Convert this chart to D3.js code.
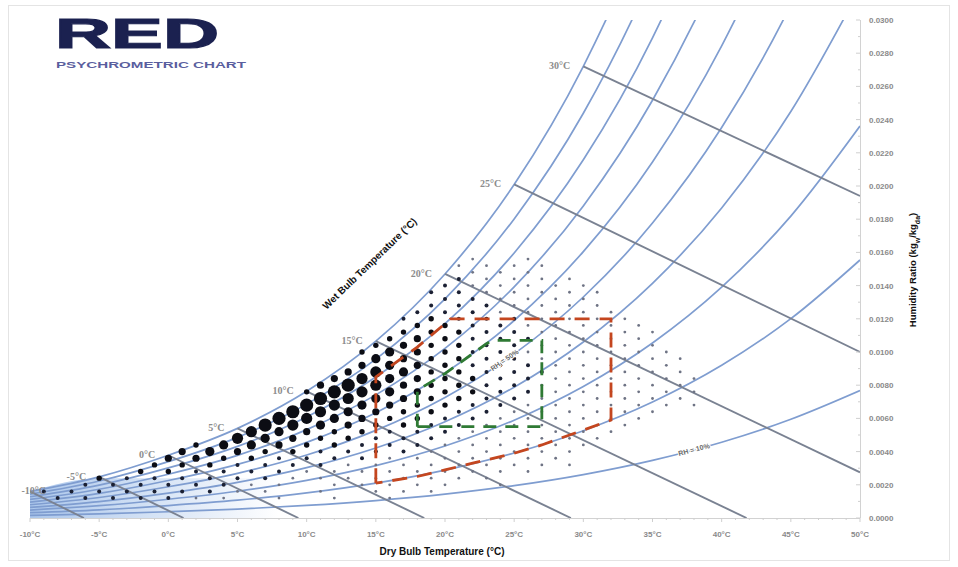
<!DOCTYPE html>
<html><head><meta charset="utf-8">
<script src="https://cdn.jsdelivr.net/npm/d3@7"></script>
<style>body{margin:0;background:#fff}</style>
</head><body><svg id="c" width="958" height="567"></svg>
<script>
// ---- data ----
const temps = [-10,-5,0,5,10,15,20,25,30,35,40,45,50];
const w100 = [0.00160,0.00248,0.00378,0.00540,0.00763,0.01065,0.01470,0.02009,0.02721,0.03659,0.04889,0.06506,0.08635];
const w90 = [0.001439,0.002228,0.003395,0.004859,0.006860,0.009569,0.013198,0.018019,0.024382,0.032733,0.043661,0.057945,0.076647];
const w80 = [0.001279,0.001980,0.003016,0.004315,0.006091,0.008491,0.011704,0.015966,0.021579,0.028927,0.038510,0.050979,0.067210];
const w70 = [0.001119,0.001731,0.002638,0.003772,0.005323,0.007417,0.010217,0.013925,0.018800,0.025165,0.033437,0.044154,0.058025];
const w60 = [0.000959,0.001483,0.002259,0.003231,0.004557,0.006347,0.008737,0.011898,0.016045,0.021446,0.028442,0.037467,0.049082];
const w50 = [0.000799,0.001236,0.001882,0.002690,0.003793,0.005280,0.007264,0.009884,0.013313,0.017770,0.023522,0.030912,0.040371];
const w40 = [0.000639,0.000988,0.001504,0.002150,0.003031,0.004217,0.005797,0.007882,0.010605,0.014135,0.018677,0.024486,0.031883];
const w30 = [0.000479,0.000741,0.001128,0.001611,0.002270,0.003157,0.004338,0.005893,0.007920,0.010541,0.013903,0.018186,0.023609];
const w20 = [0.000319,0.000494,0.000751,0.001073,0.001512,0.002101,0.002885,0.003916,0.005258,0.006988,0.009200,0.012007,0.015543];
const w10 = [0.000160,0.000247,0.000375,0.000536,0.000755,0.001049,0.001439,0.001952,0.002618,0.003474,0.004566,0.005946,0.007676];

const wbTemps = [-10,-5,0,5,10,15,20,25,30];
const wbStartW = [0.0016,0.00248,0.00378,0.0054,0.00763,0.01065,0.0147,0.0201,0.0272];
const wbEndT = [-6.1,1.1,9.4,18.5,29.1,41.8,50,50,50];
const wbEndW = [0,0,0,0,0,0,0.00275,0.0100,0.0194];
const wbLabels = ["-10°C","-5°C","0°C","5°C","10°C","15°C","20°C","25°C","30°C"];

const xTicks = [-10,-5,0,5,10,15,20,25,30,35,40,45,50];
const xTickLabels = ["-10°C","-5°C","0°C","5°C","10°C","15°C","20°C","25°C","30°C","35°C","40°C","45°C","50°C"];
const yTicks = [0,0.002,0.004,0.006,0.008,0.010,0.012,0.014,0.016,0.018,0.020,0.022,0.024,0.026,0.028,0.030];

// comfort zones [dry bulb, humidity ratio]
const redZoneT = [15,15,16,17,18,19,20,20.4,32,32,30,27,25,22,20,18,15];
const redZoneW = [0.0021,0.0085,0.0091,0.0097,0.0103,0.0110,0.0117,0.0120,0.0120,0.0059,0.0053,0.0044,0.0039,0.0033,0.0029,0.0025,0.0021];
const greenZoneT = [18,18,19,20,21,22,23,23.4,27,27,18];
const greenZoneW = [0.0055,0.0077,0.0082,0.0087,0.0093,0.0099,0.0105,0.0107,0.0107,0.0055,0.0055];

// climate hour bubbles: one string per humidity-ratio row (step 0.0004), one char per 2 °C cell
const dotStepW = 0.0004;
const dotRows = [
"",
"",
".2222211.1.1.1",
"222222211.1.111",
"..22222211.11111.1",
"..322222211111111",
"....332222111111111",
"....3332222111111111",
".....443322221111111",
".....454332222111111",
"......355433222111111",
".......65433222111111",
"........65433222111111",
"........76543322111111",
".........76543322111111",
".........76543322111111",
"..........765433221111111",
"..........76543322111111",
"..........376543322111111",
"..........47643322111111",
"...........46543322111111",
"...........4653322211111",
"............454322211111",
"............543322111111",
"............354322111111",
"............34332211111",
".............3432221111",
".............3332211111",
"..............332211111",
".............232221111",
"..............22211111",
"..............2221111",
"...............221111",
"..............2211111",
"...............211111",
"...............21111",
"................111",
"...............1111",
"................1.1"
];
const dotRadius = {1:1.4,2:2.0,3:2.7,4:3.6,5:4.6,6:5.6,7:6.6};

// ---- drawing ----
const svg = d3.select("#c");
const W = 958, H = 567;
svg.append("rect").attr("width",W).attr("height",H).attr("fill","#fff");
svg.append("rect").attr("x",8.5).attr("y",5.5).attr("width",941).attr("height",555)
  .attr("fill","none").attr("stroke","#e4e4e4");

const x = d3.scaleLinear().domain([-10,50]).range([30,860]);
const y = d3.scaleLinear().domain([0,0.03]).range([518,20]);

const defs = svg.append("defs");
defs.append("clipPath").attr("id","plot").append("rect")
  .attr("x",x(-10)).attr("y",y(0.03)).attr("width",x(50)-x(-10)).attr("height",y(0)-y(0.03));
const grad = defs.append("linearGradient").attr("id","shade").attr("gradientUnits","userSpaceOnUse")
  .attr("x1",x(-10)).attr("x2",x(8)).attr("y1",0).attr("y2",0);
grad.append("stop").attr("offset",0).attr("stop-color","#9dbde8").attr("stop-opacity",0.85);
grad.append("stop").attr("offset",1).attr("stop-color","#9dbde8").attr("stop-opacity",0);

const g = svg.append("g").attr("clip-path","url(#plot)");

// light blue shading at the cold end
const shadePts = temps.map((t,i)=>[t, Math.min(w100[i],0.0024)]).filter(d=>d[0]<=10);
g.append("path").datum(shadePts)
  .attr("d", d3.area().x(d=>x(d[0])).y0(y(0)).y1(d=>y(d[1])).curve(d3.curveMonotoneX))
  .attr("fill","url(#shade)");

// RH curves
const rhCurves = [w10,w20,w30,w40,w50,w60,w70,w80,w90,w100];
const line = d3.line().x(d=>x(d[0])).y(d=>y(d[1])).curve(d3.curveMonotoneX);
rhCurves.forEach((arr,k)=>{
  g.append("path").datum(temps.map((t,i)=>[t,arr[i]]))
    .attr("d",line).attr("fill","none")
    .attr("stroke", "#7f9dd0").attr("stroke-width",1.7);
});

// wet bulb lines
wbTemps.forEach((t,i)=>{
  g.append("line")
    .attr("x1",x(t)).attr("y1",y(wbStartW[i]))
    .attr("x2",x(wbEndT[i])).attr("y2",y(wbEndW[i]))
    .attr("stroke","#7a8292").attr("stroke-width",1.9);
});

// bubbles
const dots = [];
dotRows.forEach((row,r)=>{
  const m = r+1;
  const t0 = -10 + (m%2===0 ? 1 : 0);
  for(let j=0;j<row.length;j++){
    const c = row[j];
    if(c==="." ) continue;
    dots.push({t:t0+2*j, w:m*dotStepW, s:+c});
  }
});
g.append("g").selectAll("circle").data(dots).join("circle")
  .attr("cx",d=>x(d.t)).attr("cy",d=>y(d.w)).attr("r",d=>dotRadius[d.s])
  .attr("fill",d=>d.s===1?"#6e7384":(d.s===2?"#1b2033":"#0c0d14"));

// comfort zones
function zonePath(ts,ws){ return d3.line().x(d=>x(d[0])).y(d=>y(d[1])).curve(d3.curveLinear)(ts.map((t,i)=>[t,ws[i]])); }
g.append("path").attr("d",zonePath(redZoneT,redZoneW)).attr("fill","none")
  .attr("stroke","#c4461f").attr("stroke-width",2.8).attr("stroke-dasharray","15 10");
g.append("path").attr("d",zonePath(greenZoneT,greenZoneW)).attr("fill","none")
  .attr("stroke","#2f7a34").attr("stroke-width",2.8).attr("stroke-dasharray","13 9");

// RH labels
function interp(arr,t){ const i=Math.min(temps.length-2,Math.floor((t+10)/5)); const f=(t-temps[i])/5; return arr[i]+(arr[i+1]-arr[i])*f; }
function rhLabel(arr,t,txt){
  const px=x(t), py=y(interp(arr,t));
  const ang = Math.atan2(y(interp(arr,t+2))-y(interp(arr,t-2)), x(t+2)-x(t-2))*180/Math.PI;
  svg.append("text").attr("transform",`translate(${px},${py}) rotate(${ang}) translate(0,2.5)`)
    .attr("text-anchor","middle").attr("font-family","Liberation Sans, Arial, sans-serif")
    .attr("font-weight","bold").attr("font-size",7).attr("fill","#6a6a6a")
    .attr("stroke","#fff").attr("stroke-width",2).attr("paint-order","stroke").text(txt);
}
rhLabel(w50,24.3,"RH = 50%");
rhLabel(w10,38,"RH = 10%");

// wet bulb labels
wbTemps.forEach((t,i)=>{
  svg.append("text").attr("x",Math.max(x(t)-13,46)).attr("y",y(wbStartW[i])+3)
    .attr("text-anchor","end").attr("font-family","Liberation Serif, serif").attr("font-weight","bold")
    .attr("font-size",10).attr("fill","#8c8c8c").text(wbLabels[i]);
});

// axes
const ax = svg.append("g");
ax.append("line").attr("x1",x(-10)).attr("x2",x(50)).attr("y1",y(0)+0.5).attr("y2",y(0)+0.5).attr("stroke","#d2d2d2");
ax.selectAll(".xt").data(d3.range(-10,51,1)).join("line")
  .attr("x1",d=>x(d)).attr("x2",d=>x(d)).attr("y1",y(0)).attr("y2",d=>y(0)+(d%5===0?4:2)).attr("stroke","#cfcfcf");
ax.selectAll(".xl").data(xTicks).join("text")
  .attr("x",d=>x(d)).attr("y",537).attr("text-anchor","middle")
  .attr("font-family","Liberation Sans, Arial, sans-serif").attr("font-weight","bold").attr("font-size",8)
  .attr("fill","#8a8a8a").text((d,i)=>xTickLabels[i]);
ax.append("line").attr("x1",x(50)+0.5).attr("x2",x(50)+0.5).attr("y1",y(0.03)).attr("y2",y(0)).attr("stroke","#d2d2d2");
ax.selectAll(".yt").data(d3.range(0,31,1)).join("line")
  .attr("x1",d=>x(50)-(d%2===0?4:2)).attr("x2",x(50)).attr("y1",d=>y(d/1000)).attr("y2",d=>y(d/1000)).attr("stroke","#cfcfcf");
ax.selectAll(".yl").data(yTicks).join("text")
  .attr("x",869).attr("y",d=>y(d)+3).attr("text-anchor","start")
  .attr("font-family","Liberation Sans, Arial, sans-serif").attr("font-weight","bold").attr("font-size",8)
  .attr("fill","#8a8a8a").text(d=>d3.format(".4f")(d));

// axis titles
svg.append("text").attr("x",442).attr("y",555).attr("text-anchor","middle")
  .attr("font-family","Liberation Sans, Arial, sans-serif").attr("font-weight","bold").attr("font-size",10)
  .attr("fill","#111").text("Dry Bulb Temperature (°C)");
const yt = svg.append("text").attr("transform","translate(916,270) rotate(-90)").attr("text-anchor","middle")
  .attr("font-family","Liberation Sans, Arial, sans-serif").attr("font-weight","bold").attr("font-size",9.5).attr("fill","#111");
yt.append("tspan").text("Humidity Ratio (kg");
yt.append("tspan").attr("baseline-shift","sub").attr("font-size",7).text("w");
yt.append("tspan").text("/kg");
yt.append("tspan").attr("baseline-shift","sub").attr("font-size",7).text("da");
yt.append("tspan").text(")");
svg.append("text").attr("transform","translate(372,266) rotate(-44)").attr("text-anchor","middle")
  .attr("font-family","Liberation Sans, Arial, sans-serif").attr("font-weight","bold").attr("font-size",10)
  .attr("fill","#111").text("Wet Bulb Temperature (°C)");

// title
svg.append("text").attr("x",55).attr("y",48).attr("font-family","Liberation Sans, Arial, sans-serif").attr("font-weight","bold")
  .attr("font-size",43).attr("textLength",164).attr("lengthAdjust","spacingAndGlyphs").attr("fill","#1b2150")
  .attr("stroke","#1b2150").attr("stroke-width",1.2).text("RED");
svg.append("text").attr("x",56).attr("y",68).attr("font-family","Liberation Sans, Arial, sans-serif").attr("font-weight","bold")
  .attr("font-size",9).attr("textLength",190).attr("lengthAdjust","spacingAndGlyphs").attr("fill","#5a5e9e").text("PSYCHROMETRIC CHART");
</script></body></html>
